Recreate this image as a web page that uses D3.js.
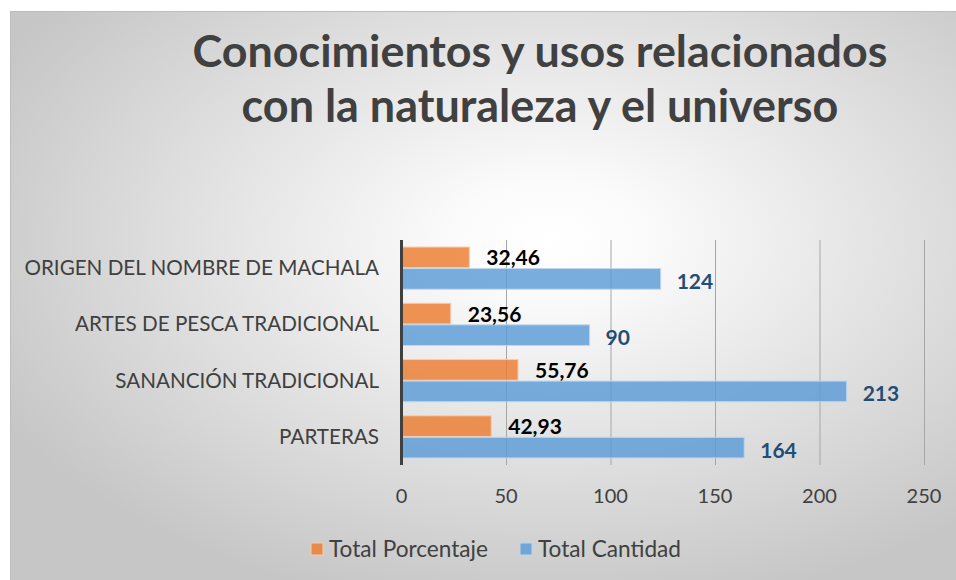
<!DOCTYPE html>
<html lang="es">
<head>
<meta charset="UTF-8">
<title>Conocimientos y usos relacionados con la naturaleza y el universo</title>
<script src="https://d3js.org/d3.v7.min.js"></script>
<style>
  body { margin: 0; background: #fff; }
  svg { display: block; font-family: Lato, "Open Sans", sans-serif; }
</style>
</head>
<body>
<div id="chart"></div>
<script>
// datos
const categories = ["ORIGEN DEL NOMBRE DE MACHALA", "ARTES DE PESCA TRADICIONAL", "SANANCIÓN TRADICIONAL", "PARTERAS"];
const porcentaje = [32.46, 23.56, 55.76, 42.93];
const cantidad = [124, 90, 213, 164];
const ticks = [0, 50, 100, 150, 200, 250];
const seriesNames = ["Total Porcentaje", "Total Cantidad"];

const width = 956, height = 580;
const plot = { left: 401.5, right: 924, top: 240, bottom: 465 };

const svg = d3.select("#chart").append("svg")
  .attr("width", width).attr("height", height);

// fondo con degradado radial
const defs = svg.append("defs");
const grad = defs.append("radialGradient").attr("id", "bg")
  .attr("cx", "57%").attr("cy", "40%").attr("r", "66%");
grad.append("stop").attr("offset", "0%").attr("stop-color", "#ffffff");
grad.append("stop").attr("offset", "15%").attr("stop-color", "#fbfbfb");
grad.append("stop").attr("offset", "100%").attr("stop-color", "#c6c6c6");

svg.append("rect").attr("x", 10).attr("y", 11)
  .attr("width", width - 10).attr("height", height - 11)
  .attr("fill", "url(#bg)");
svg.append("line").attr("x1", 10.5).attr("x2", 10.5).attr("y1", 11).attr("y2", height)
  .attr("stroke", "#bdbdbd");
svg.append("line").attr("x1", 10).attr("x2", width).attr("y1", 11.5).attr("y2", 11.5)
  .attr("stroke", "#bdbdbd");

// tamaño de letra para que un texto ocupe un ancho dado
function fitSize(text, fs, weight, target) {
  const t = svg.append("text").attr("font-size", fs).attr("font-weight", weight).text(text);
  const w = t.node().getComputedTextLength();
  t.remove();
  return fs * target / w;
}

// título
const titleLines = ["Conocimientos y usos relacionados", "con la naturaleza y el universo"];
const titleWidths = [695, 597];
titleLines.forEach((t, i) => {
  svg.append("text")
    .attr("x", 540).attr("y", 67 + i * 55)
    .attr("text-anchor", "middle")
    .attr("font-size", fitSize(t, 42, "bold", titleWidths[i])).attr("font-weight", "bold")
    .attr("fill", "#404040")
    .text(t);
});

const x = d3.scaleLinear().domain([0, 250]).range([plot.left, plot.right]);
const y = d3.scaleBand().domain(categories).range([plot.top, plot.bottom])
  .paddingInner(0.25).paddingOuter(0.125);
const sub = d3.scaleBand().domain([0, 1]).range([0, y.bandwidth()]).paddingInner(0.04);

// rejilla
svg.append("g").selectAll("line").data(ticks.slice(1)).join("line")
  .attr("x1", d => x(d) + 0.5).attr("x2", d => x(d) + 0.5)
  .attr("y1", plot.top).attr("y2", plot.bottom)
  .attr("stroke", "#a6a6a6").attr("stroke-width", 1);

// barras
const series = [
  { vals: porcentaje, fill: "#ED7D31", stroke: "#F8CBAD" },
  { vals: cantidad, fill: "#5B9BD5", stroke: "#BDD7EE" }
];
series.forEach((s, si) => {
  svg.append("g").selectAll("rect").data(categories).join("rect")
    .attr("x", x(0))
    .attr("y", c => y(c) + sub(si))
    .attr("width", (c, i) => x(s.vals[i]) - x(0))
    .attr("height", sub.bandwidth())
    .attr("fill", s.fill).attr("fill-opacity", 0.82)
    .attr("stroke", s.stroke).attr("stroke-width", 1);
});

// etiquetas de valores
const fmt = v => String(v).replace(".", ",");
svg.append("g").selectAll("text").data(categories).join("text")
  .attr("x", (c, i) => x(porcentaje[i]) + 17)
  .attr("y", c => y(c) + sub(0) + sub.bandwidth() / 2 + 8)
  .attr("font-size", 21).attr("font-weight", "bold").attr("fill", "#000")
  .text((c, i) => fmt(porcentaje[i]));
svg.append("g").selectAll("text").data(categories).join("text")
  .attr("x", (c, i) => x(cantidad[i]) + 16)
  .attr("y", c => y(c) + sub(1) + sub.bandwidth() / 2 + 10)
  .attr("font-size", 21).attr("font-weight", "bold").attr("fill", "#1F4E79")
  .text((c, i) => cantidad[i]);

// eje vertical
svg.append("line")
  .attr("x1", x(0)).attr("x2", x(0))
  .attr("y1", plot.top).attr("y2", plot.bottom)
  .attr("stroke", "#404040").attr("stroke-width", 3);

// categorías
const catSize = fitSize(categories[0], 19, "normal", 355);
svg.append("g").selectAll("text").data(categories).join("text")
  .attr("x", 379)
  .attr("y", c => y(c) + y.bandwidth() / 2 + 7)
  .attr("text-anchor", "end")
  .attr("font-size", catSize).attr("fill", "#404040")
  .text(d => d);

// etiquetas del eje x
svg.append("g").selectAll("text").data(ticks).join("text")
  .attr("x", d => x(d)).attr("y", 503)
  .attr("text-anchor", "middle")
  .attr("font-size", 20).attr("fill", "#404040")
  .text(d => d);

// leyenda
const legendColors = ["#ED7D31", "#5B9BD5"];
const legendX = [311, 520];
const legSize = fitSize(seriesNames[0], 19, "normal", 159);
seriesNames.forEach((n, i) => {
  svg.append("rect").attr("x", legendX[i]).attr("y", 543)
    .attr("width", 12).attr("height", 12)
    .attr("fill", legendColors[i]).attr("fill-opacity", 0.82)
    .attr("stroke", series[i].stroke);
  svg.append("text").attr("x", legendX[i] + 18).attr("y", 557)
    .attr("font-size", legSize).attr("fill", "#404040")
    .text(n);
});
</script>
</body>
</html>
